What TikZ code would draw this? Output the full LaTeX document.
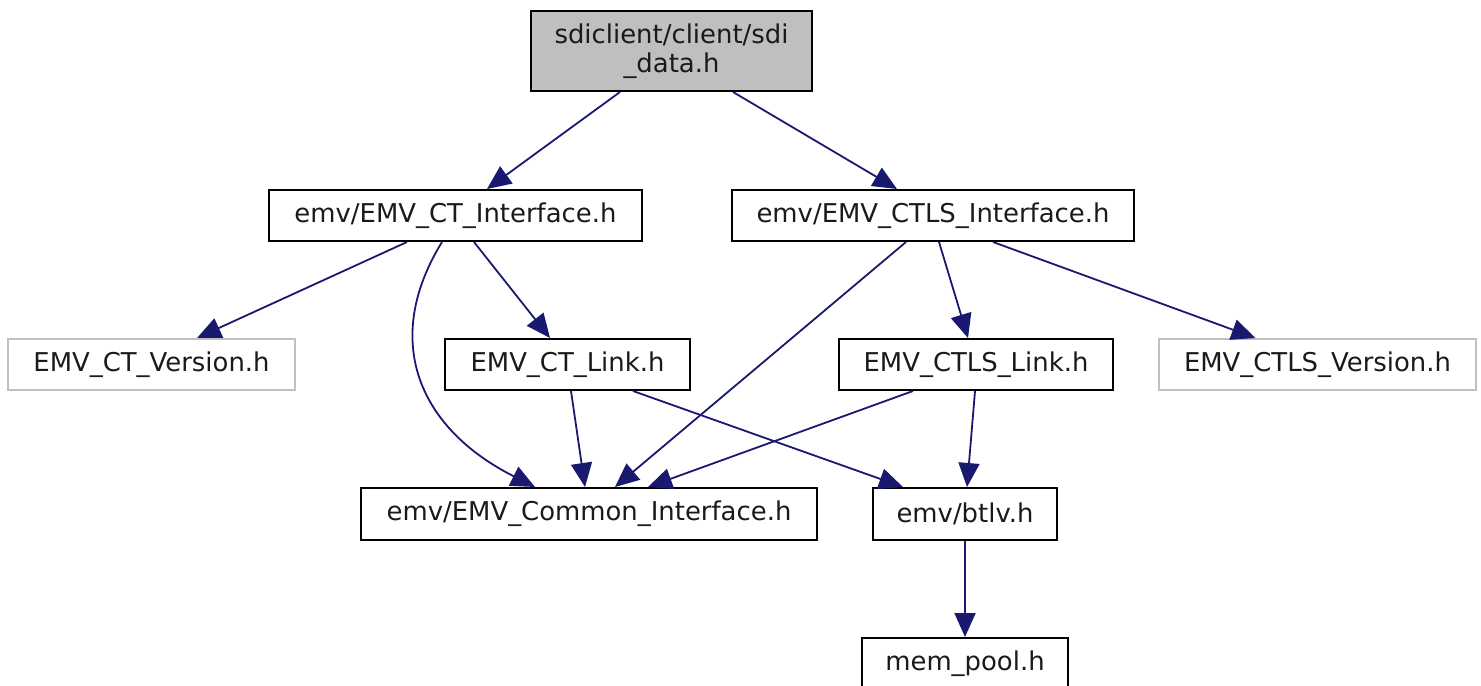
\documentclass[tikz,border=0pt]{standalone}
\usepackage{fontspec}
\setmainfont{DejaVu Sans}
\usetikzlibrary{calc,arrows.meta}
\definecolor{edgeblue}{HTML}{191970}
\definecolor{boxgray}{HTML}{BFBFBF}
\definecolor{txt}{HTML}{1A1A1A}
\tikzset{
  filebox/.style={draw=black, line width=1pt, rectangle, inner sep=0pt, minimum height=25.5pt, text=txt,
    font=\fontsize{12.95}{14.5}\selectfont},
  mainbox/.style={filebox, fill=boxgray, align=center},
  extbox/.style={filebox, draw=boxgray},
  edge/.style={draw=edgeblue, line width=0.9pt, -{Triangle[length=12pt,width=10.5pt]}}
}
\begin{document}
\begin{tikzpicture}[x=0.5pt,y=-0.5pt]
\useasboundingbox (0,0) rectangle (1481,685);
\node[mainbox, minimum width=140.5pt, minimum height=40pt] (sdi) at (671.5,51) {sdiclient/client/sdi\\\_data.h};
\node[filebox, minimum width=186.5pt] (ctif) at (455.5,215.5) {emv/EMV\_CT\_Interface.h};
\node[filebox, minimum width=201pt] (ctlsif) at (933,215.5) {emv/EMV\_CTLS\_Interface.h};
\node[extbox, minimum width=143.5pt] (ctver) at (151.5,364.5) {EMV\_CT\_Version.h};
\node[filebox, minimum width=122.5pt] (ctlink) at (567.5,364.5) {EMV\_CT\_Link.h};
\node[filebox, minimum width=137pt] (ctlslink) at (976,364.5) {EMV\_CTLS\_Link.h};
\node[extbox, minimum width=158.5pt] (ctlsver) at (1317.5,364.5) {EMV\_CTLS\_Version.h};
\node[filebox, minimum width=228pt, minimum height=26pt] (common) at (589,514) {emv/EMV\_Common\_Interface.h};
\node[filebox, minimum width=92pt, minimum height=26pt] (btlv) at (965,514) {emv/btlv.h};
\node[filebox, minimum width=103pt, minimum height=26pt] (mempool) at (965,664) {mem\_pool.h};

\draw[edge] ($(sdi.south)+(-51.5,0)$) -- ($(ctif.north)+(31.5,0)$);
\draw[edge] ($(sdi.south)+(61.5,0)$) -- ($(ctlsif.north)+(-36,0)$);
\draw[edge] ($(ctif.south)+(-48.5,0)$) -- ($(ctver.north)+(45.5,0)$);
\draw[edge] ($(ctif.south)+(-13.5,0)$) .. controls ($(ctif.south)+(-75,100)$) and ($(common.north)+(-169,-58)$) .. ($(common.north)+(-54,0)$);
\draw[edge] ($(ctif.south)+(18.5,0)$) -- ($(ctlink.north)+(-17.5,0)$);
\draw[edge] ($(ctlsif.south)+(-27,0)$) -- ($(common.north)+(26,0)$);
\draw[edge] ($(ctlsif.south)+(6,0)$) -- ($(ctlslink.north)+(-8,0)$);
\draw[edge] ($(ctlsif.south)+(60,0)$) -- ($(ctlsver.north)+(-62,0)$);
\draw[edge] ($(ctlink.south)+(3.5,0)$) -- ($(common.north)+(-4,0)$);
\draw[edge] ($(ctlink.south)+(65.5,0)$) -- ($(btlv.north)+(-62,0)$);
\draw[edge] ($(ctlslink.south)+(-63,0)$) -- ($(common.north)+(59,0)$);
\draw[edge] ($(ctlslink.south)+(-1,0)$) -- ($(btlv.north)+(2,0)$);
\draw[edge] (btlv.south) -- (mempool.north);
\end{tikzpicture}
\end{document}
